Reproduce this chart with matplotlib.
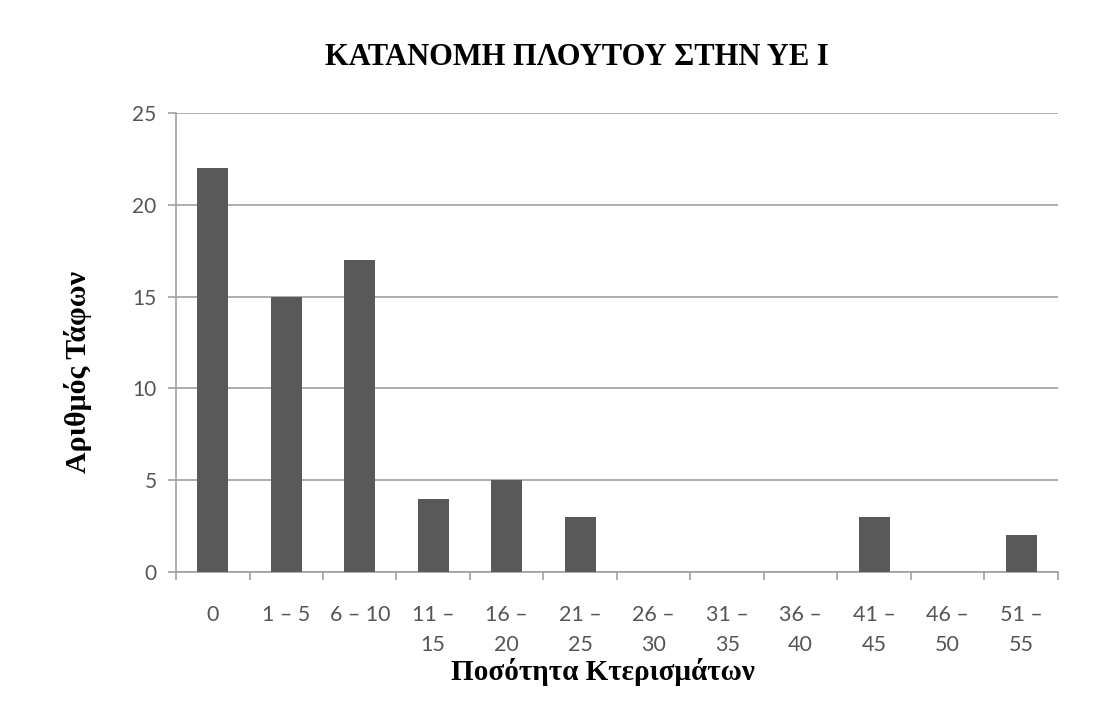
import matplotlib
matplotlib.use("Agg")
import matplotlib.pyplot as plt
import numpy as np

categories = ["0", "1 – 5", "6 – 10", "11 –\n15", "16 –\n20", "21 –\n25", "26 –\n30",
              "31 –\n35", "36 –\n40", "41 –\n45", "46 –\n50", "51 –\n55"]
counts = [22, 15, 17, 4, 5, 3, 0, 0, 0, 3, 0, 2]
yticks = [0, 5, 10, 15, 20, 25]

fig = plt.figure(figsize=(11.1, 7.04), dpi=100)
ax = fig.add_axes([0.1586, 0.1875, 0.7944, 0.652])

x = np.arange(len(categories))
ax.bar(x, counts, width=0.42, color="#595959", zorder=3)

ax.set_xlim(-0.5, len(categories) - 0.5)
ax.set_ylim(0, 25)
ax.set_yticks(yticks)
ax.yaxis.grid(True, color="#a0a0a0", linewidth=1.2, zorder=0)

ax.set_xticks(x)
ax.set_xticklabels(categories, fontsize=15.5, color="#555555", family="Lato", linespacing=1.6)
ax.set_xticks(np.arange(len(categories) + 1) - 0.5, minor=True)
ax.tick_params(axis="x", which="major", length=0, pad=24)
ax.tick_params(axis="x", which="minor", length=6, color="#a0a0a0", width=1.2)
ax.tick_params(axis="y", length=6, color="#a0a0a0", width=1.2, labelsize=15,
               labelcolor="#555555", pad=8)
for lbl in ax.get_yticklabels():
    lbl.set_family("Lato")

for s in ["top", "right"]:
    ax.spines[s].set_visible(False)
for s in ["left", "bottom"]:
    ax.spines[s].set_color("#a0a0a0")
    ax.spines[s].set_linewidth(1.2)

fig.text(0.52, 0.919, "ΚΑΤΑΝΟΜΗ ΠΛΟΥΤΟΥ ΣΤΗΝ ΥΕ Ι", ha="center", va="center",
         fontsize=22, fontweight="bold", family="Liberation Serif")
fig.text(0.0703, 0.472, "Αριθμός Τάφων", ha="center", va="center", rotation=90,
         fontsize=21.5, fontweight="bold", family="Liberation Serif")
fig.text(0.543, 0.0455, "Ποσότητα Κτερισμάτων", ha="center", va="center",
         fontsize=21, fontweight="bold", family="Liberation Serif")

fig.savefig("out.png", dpi=100)
